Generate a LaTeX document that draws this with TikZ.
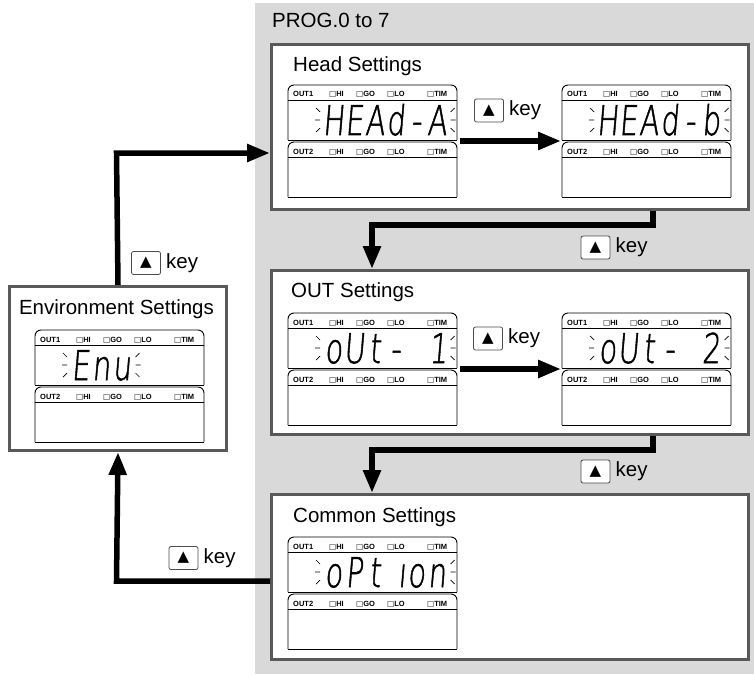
\documentclass[tikz,border=0pt]{standalone}
\usepackage{fontspec}
\setmainfont{Liberation Sans}
\newfontfamily\segfont{DejaVuSans-ExtraLight.ttf}[FakeSlant=0.12,FakeBold=1.5]
\newfontfamily\trifont{DejaVu Sans}
\usetikzlibrary{arrows.meta,positioning}

% one cell of the display
\newcommand{\segc}[2][c]{\makebox[20.7pt][#1]{\scalebox{0.7}[1]{#2}}}

\tikzset{
  setbox/.style={draw=black!65, line width=3pt, fill=white, anchor=north west, inner sep=0pt},
  boxtitle/.style={font=\fontsize{20.5}{24}\selectfont, anchor=base west, inner sep=0pt},
  lcdline/.style={line width=0.9pt},
  lcdlabel/.style={font=\fontsize{7.5}{9}\selectfont\bfseries, anchor=base west, inner sep=0pt},
  lcddigits/.style={font={\segfont\fontsize{41}{41}\selectfont}, anchor=west, inner sep=0pt, text height=30pt, text depth=0pt},
  lcdtick/.style={line width=0.7pt},
  flow/.style={line width=5.5pt, -{Triangle[length=23pt,width=17pt]}},
  keybtn/.style={draw=black!70, line width=0.8pt, fill=white, rounded corners=2pt, minimum width=29pt, minimum height=23pt, inner sep=0pt, font={\trifont\fontsize{15}{15}\selectfont}},
  keytext/.style={font=\fontsize{20.5}{24}\selectfont, inner sep=0pt}
}

% #1,#2 top left corner, #3 digits, #4 name
\newcommand{\lcdpanel}[4]{%
  \begin{scope}[shift={(#1,#2)}]
    \draw [lcdline, rounded corners=6pt] (0,55) |- (169,0) -- (169,55);
    \draw [lcdline] (0,55) -- (169,55) (0,15) -- (169,15);
    \draw [lcdline, rounded corners=6pt] (0,112) |- (169,57) -- (169,112);
    \draw [lcdline] (0,112) -- (169,112) (0,72) -- (169,72);
    \node [lcdlabel] (#4-out1) at (5,12) {OUT1};
    \node [lcdlabel] (#4-out2) at (5,69) {OUT2};
    \foreach \lx/\lt in {41/HI,68/GO,99/LO,139/TIM} {
      \node [lcdlabel] (#4-a\lt) at (\lx,12) {{\trifont □}\lt};
      \node [lcdlabel] (#4-b\lt) at (\lx,69) {{\trifont □}\lt};
    }
    \node [lcddigits] (#4) at (35,35) {#3};
    \coordinate (#4-l) at (-1,56);
    \coordinate (#4-r) at (172,56);
  \end{scope}
  % blinking marks
  \begin{scope}[shift={(#4.west)}]
    \draw [lcdtick] (-7,-12) -- (-3,-8) (-8,0) -- (-3,0) (-7,12) -- (-3,8);
  \end{scope}
  \begin{scope}[shift={(#4.east)}]
    \draw [lcdtick] (7,-12) -- (3,-8) (8,0) -- (3,0) (7,12) -- (3,8);
  \end{scope}}

\begin{document}
\begin{tikzpicture}[x=1pt, y=-1pt]
  \useasboundingbox (0,0) rectangle (754,674);
  \fill [black!15] (255,3) rectangle (754,674);
  \node [boxtitle] (prog) at (272,28) {PROG.0 to 7};

  % setting boxes
  \node [setbox, minimum width=477pt, minimum height=165pt] (head) at (270,43) {};
  \node [setbox, minimum width=477pt, minimum height=164pt] (out) at (270,269) {};
  \node [setbox, minimum width=477pt, minimum height=165pt] (common) at (270,493) {};
  \node [setbox, minimum width=217pt, minimum height=164pt] (env) at (8,285) {};

  \node [boxtitle] (headtitle) at (293,72) {Head Settings};
  \node [boxtitle] (outtitle) at (291,297) {OUT Settings};
  \node [boxtitle] (comtitle) at (293,522) {Common Settings};
  \node [boxtitle, anchor=base] (envtitle) at (116.5,314) {Environment Settings};

  % displays
  \lcdpanel{288}{85}{\segc{H}\segc{E}\segc{A}\segc{d}\segc{-}\segc{A}}{hA}
  \lcdpanel{562}{85}{\segc{H}\segc{E}\segc{A}\segc{d}\segc{-}\segc{b}}{hB}
  \lcdpanel{288}{313}{\segc{o}\segc{U}\segc{t}\segc{-}\segc{ }\segc[r]{1}}{oA}
  \lcdpanel{562}{313}{\segc{o}\segc{U}\segc{t}\segc{-}\segc{ }\segc{2}}{oB}
  \lcdpanel{288}{537}{\segc{o}\segc{P}\segc{t}\segc[r]{ı}\segc{o}\segc{n}}{cA}
  \lcdpanel{35}{330}{\segc{E}\segc{n}\segc{u}}{eA}

  % arrows
  \coordinate (eturn) at (116.5,153);
  \draw [flow] (env.north) -- (eturn) -- (head.west |- eturn);
  \draw [flow] (hA-r) -- (hB-l);
  \coordinate (hdown) at (653,225);
  \coordinate (hleft) at (372,225);
  \draw [flow] (head.south -| hdown) -- (hdown) -- (hleft) -- (out.north -| hleft);
  \draw [flow] (oA-r) -- (oB-l);
  \coordinate (odown) at (653,450);
  \coordinate (oleft) at (372,450);
  \draw [flow] (out.south -| odown) -- (odown) -- (oleft) -- (common.north -| oleft);
  \coordinate (cturn) at (116.5,581);
  \draw [flow] (common.west |- cturn) -- (cturn) -- (env.south);

  % keys
  \node [keybtn] (k1) at (489,110.5) {▲};
  \node [keytext, right=5pt of k1] (kt1) {key};
  \node [keybtn] (k2) at (595.5,247.5) {▲};
  \node [keytext, right=5pt of k2] (kt2) {key};
  \node [keybtn] (k3) at (488,338.5) {▲};
  \node [keytext, right=5pt of k3] (kt3) {key};
  \node [keybtn] (k4) at (595.5,471.5) {▲};
  \node [keytext, right=5pt of k4] (kt4) {key};
  \node [keybtn] (k5) at (146,263) {▲};
  \node [keytext, right=5pt of k5] (kt5) {key};
  \node [keybtn] (k6) at (183.5,558) {▲};
  \node [keytext, right=5pt of k6] (kt6) {key};
\end{tikzpicture}
\end{document}
